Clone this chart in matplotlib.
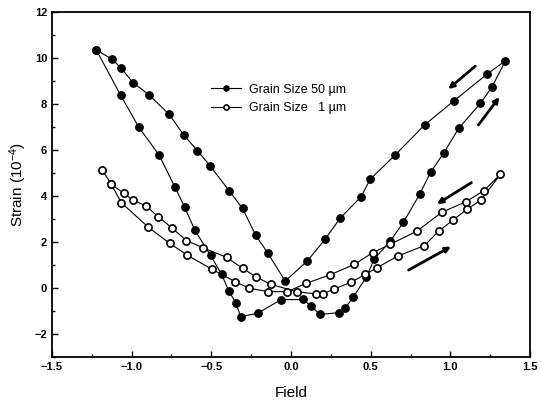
import matplotlib
matplotlib.use("Agg")
import matplotlib.pyplot as plt
from matplotlib.ticker import MultipleLocator

plt.rcParams['font.family'] = ['Liberation Sans', 'DejaVu Sans']
plt.rcParams['mathtext.fontset'] = 'custom'
plt.rcParams['mathtext.rm'] = 'Liberation Sans'
plt.rcParams['mathtext.it'] = 'Liberation Sans:italic'

# Grain size 50 um (closed butterfly loop)
field_50 = [-1.222, -1.121, -1.065, -0.992, -0.891, -0.765, -0.673, -0.587, -0.509, -0.388,
            -0.304, -0.222, -0.145, -0.036,
            0.103, 0.214, 0.308, 0.440, 0.497, 0.654, 0.838, 1.021, 1.231, 1.346,
            1.262, 1.189, 1.052, 0.958, 0.878, 0.807, 0.706, 0.623, 0.522, 0.472, 0.392,
            0.340, 0.304, 0.182, 0.124, 0.077,
            -0.063, -0.210, -0.316, -0.346, -0.390, -0.436, -0.505, -0.604, -0.667, -0.730,
            -0.828, -0.956, -1.069, -1.222]
strain_50 = [10.35, 9.94, 9.55, 8.93, 8.40, 7.55, 6.65, 5.97, 5.32, 4.23,
             3.46, 2.30, 1.51, 0.30,
             1.18, 2.12, 3.03, 3.97, 4.73, 5.78, 7.09, 8.13, 9.30, 9.88,
             8.75, 8.03, 6.94, 5.86, 5.06, 4.07, 2.86, 2.04, 1.26, 0.46, -0.38,
             -0.88, -1.07, -1.15, -0.78, -0.50,
             -0.51, -1.10, -1.25, -0.64, -0.14, 0.60, 1.42, 2.52, 3.51, 4.41,
             5.78, 7.00, 8.38, 10.35]

# Grain size 1 um
field_1 = [-1.184, -1.128, -1.050, -0.992, -0.912, -0.832, -0.744, -0.656, -0.552, -0.404,
           -0.304, -0.222, -0.128, 0.036, 0.157, 0.199, 0.272, 0.377, 0.467, 0.539,
           0.671, 0.836, 0.929, 1.017, 1.105, 1.193, 1.314,
           1.210, 1.097, 0.946, 0.790, 0.623, 0.514, 0.398, 0.245, 0.094,
           -0.023, -0.143, -0.262, -0.350, -0.495, -0.652, -0.761, -0.895, -1.065, -1.128]
strain_1 = [5.13, 4.51, 4.12, 3.83, 3.57, 3.10, 2.59, 2.06, 1.75, 1.33,
            0.86, 0.49, 0.16, -0.16, -0.26, -0.26, -0.04, 0.25, 0.59, 0.88,
            1.39, 1.84, 2.48, 2.96, 3.42, 3.83, 4.94,
            4.23, 3.75, 3.29, 2.47, 1.90, 1.54, 1.03, 0.57, 0.20,
            -0.16, -0.16, -0.01, 0.27, 0.81, 1.43, 1.94, 2.64, 3.71, 4.51]

labels = ['Grain Size 50 \u00b5m', 'Grain Size   1 \u00b5m']

# sweep-direction arrows: (tail_x, tail_y, head_x, head_y)
arrows = [(1.157, 9.65, 0.987, 8.65),
          (1.176, 7.09, 1.308, 8.30),
          (1.132, 4.58, 0.916, 3.65),
          (0.738, 0.78, 1.004, 1.80)]

fig = plt.figure(figsize=(5.41, 4.07), dpi=100)
ax = fig.add_axes([0.0961, 0.1229, 0.8836, 0.8476])

ax.plot(field_50, strain_50, '-', color='black', lw=0.8, marker='o', ms=5.3,
        mfc='black', mec='black', label=labels[0])
ax.plot(field_1, strain_1, '-', color='black', lw=0.8, marker='o', ms=5.2,
        mfc='white', mec='black', mew=1.2, label=labels[1])

for tx, ty, hx, hy in arrows:
    ax.annotate('', xy=(hx, hy), xytext=(tx, ty),
                arrowprops=dict(arrowstyle='-|>', color='black', lw=2.0,
                                mutation_scale=8, shrinkA=0, shrinkB=0))

ax.set_xlim(-1.5, 1.5)
ax.set_ylim(-3, 12)
ax.xaxis.set_major_locator(MultipleLocator(0.5))
ax.xaxis.set_minor_locator(MultipleLocator(0.25))
ax.yaxis.set_major_locator(MultipleLocator(2))
ax.yaxis.set_minor_locator(MultipleLocator(1))
ax.tick_params(which='both', direction='in', top=False, right=False)
ax.tick_params(which='major', length=4, width=1, labelsize=8)
ax.tick_params(which='minor', length=2.5, width=1)
for lab in ax.get_xticklabels() + ax.get_yticklabels():
    lab.set_fontweight('bold')
for s in ax.spines.values():
    s.set_linewidth(1.3)

ax.set_xlabel('Field', fontsize=11, labelpad=10)
ax.set_ylabel('Strain (10$^{-4}$)', fontsize=11, labelpad=4)

leg = ax.legend(loc='upper left', bbox_to_anchor=(0.31, 0.825), frameon=False,
                fontsize=9, handlelength=2.4, handletextpad=0.6, labelspacing=0.5,
                markerscale=0.7)

fig.savefig('out.png', dpi=100)
